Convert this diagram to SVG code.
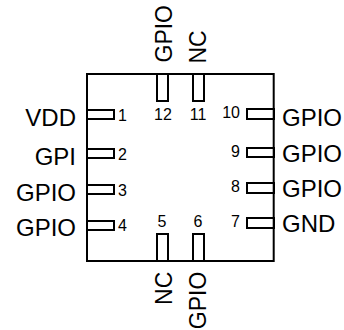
<svg xmlns="http://www.w3.org/2000/svg" width="344" height="330" viewBox="0 0 344 330">
<style>
.b{fill:none;stroke:#000;stroke-width:2}
.l{font:24px "Liberation Sans",Arial,sans-serif;fill:#000}
.r{font:23px "Liberation Sans",Arial,sans-serif;fill:#000}
.n{font:16px "Liberation Sans",Arial,sans-serif;fill:#000}
.e{text-anchor:end}
.m{text-anchor:middle}
</style>
<g id="body"><rect class="b" x="87" y="74" width="186.700" height="187"/></g>
<g id="pin1"><rect class="b" x="87" y="110" width="27" height="9"/><text class="n" x="118" y="121">1</text><text class="l e" x="76" y="126">VDD</text></g>
<g id="pin2"><rect class="b" x="87" y="149" width="27" height="9"/><text class="n" x="118" y="160">2</text><text class="l e" x="76" y="165">GPI</text></g>
<g id="pin3"><rect class="b" x="87" y="185" width="27" height="9"/><text class="n" x="118" y="196">3</text><text class="l e" x="76" y="201">GPIO</text></g>
<g id="pin4"><rect class="b" x="87" y="221" width="27" height="9"/><text class="n" x="118" y="231">4</text><text class="l e" x="76" y="236">GPIO</text></g>
<g id="pin5"><rect class="b" x="157" y="234" width="11" height="27"/><text class="n m" x="162" y="227">5</text><text class="r e" transform="translate(171.500 271.700) rotate(-90)">NC</text></g>
<g id="pin6"><rect class="b" x="193" y="234" width="11" height="27"/><text class="n m" x="198" y="227">6</text><text class="r e" transform="translate(205.500 271.700) rotate(-90)">GPIO</text></g>
<g id="pin7"><rect class="b" x="247" y="218" width="27" height="10"/><text class="n e" x="240" y="227">7</text><text class="l" x="282" y="232">GND</text></g>
<g id="pin8"><rect class="b" x="247" y="183" width="27" height="10"/><text class="n e" x="240" y="192">8</text><text class="l" x="282" y="197">GPIO</text></g>
<g id="pin9"><rect class="b" x="247" y="148" width="27" height="9"/><text class="n e" x="240" y="157">9</text><text class="l" x="282" y="162">GPIO</text></g>
<g id="pin10"><rect class="b" x="247" y="109" width="27" height="10"/><text class="n e" x="240" y="118">10</text><text class="l" x="282" y="126">GPIO</text></g>
<g id="pin11"><rect class="b" x="193" y="74" width="11" height="27"/><text class="n m" x="198" y="120">11</text><text class="r" transform="translate(205.500 63.500) rotate(-90)">NC</text></g>
<g id="pin12"><rect class="b" x="157" y="74" width="11" height="27"/><text class="n m" x="163" y="120">12</text><text class="r" transform="translate(171.500 62.500) rotate(-90)">GPIO</text></g>
<g id="connectors"/>
</svg>
